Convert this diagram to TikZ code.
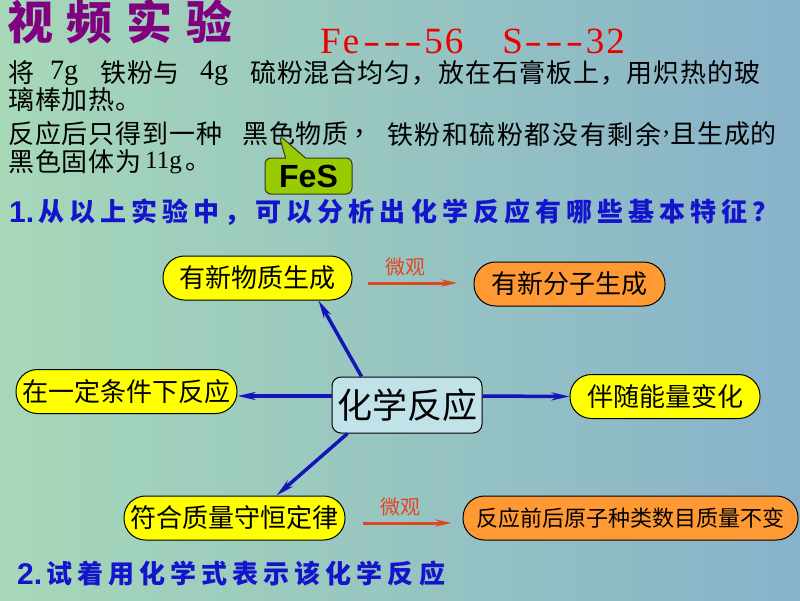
\documentclass[tikz,border=0pt]{standalone}
\usepackage{fontspec}
\usepackage{graphicx}
\setmainfont{Liberation Serif}
\setsansfont{Liberation Sans}
\newfontfamily\cjk{Noto Sans CJK SC}
\usetikzlibrary{arrows.meta,shapes.callouts}
\definecolor{bgL}{RGB}{166,216,184}
\definecolor{bgR}{RGB}{136,178,202}
\definecolor{titlepurple}{RGB}{128,0,128}
\definecolor{qblue}{RGB}{20,20,205}
\definecolor{yfill}{RGB}{255,255,0}
\definecolor{ofill}{RGB}{255,153,51}
\definecolor{cfill}{RGB}{192,226,232}
\definecolor{fesgreen}{RGB}{153,204,0}
\definecolor{arrblue}{RGB}{20,20,185}
\definecolor{microred}{RGB}{225,70,35}
\definecolor{fered}{RGB}{235,0,0}
\newcommand{\mcell}[1]{\makebox[20.6pt]{#1}}
\newcommand{\mdash}{\makebox[20.6pt]{\scalebox{1.4}[1]{-}}}
\tikzset{
  x=1pt,y=-1pt,
  txt/.style={inner sep=0pt,anchor=west},
  bodyfont/.style={font=\cjk\fontsize{26}{26}\selectfont\addfontfeature{LetterSpace=3.5}},
  qfont/.style={font=\cjk\bfseries\fontsize{26}{26}\selectfont\addfontfeature{LetterSpace=19.5},text=qblue},
  stadium/.style={draw=black,line width=1pt,rounded corners=21.5pt,inner sep=0pt,
     minimum height=44pt,font=\cjk\fontsize{26}{26}\selectfont},
  ynode/.style={stadium,fill=yfill},
  onode/.style={stadium,fill=ofill},
  barrow/.style={draw=arrblue,line width=3.5pt,-{Stealth[length=18pt,width=8pt]}},
  rarrow/.style={draw=microred,line width=3pt,-{Stealth[length=16pt,width=7pt]}},
  micro/.style={inner sep=0pt,text=microred,font=\cjk\fontsize{20}{20}\selectfont},
}
\begin{document}
\begin{tikzpicture}
\useasboundingbox (0,0) rectangle (800,600);
\fill[left color=bgL,right color=bgR] (0,0) rectangle (800,600);

% title
\node[txt,text=titlepurple] (title) at (7,22) {\cjk\bfseries\fontsize{46}{46}\selectfont\addfontfeature{LetterSpace=30}视频实验};

% atomic masses
\node[inner sep=0pt,anchor=base west,text depth=0pt,text=fered,font=\fontsize{37}{37}\selectfont] (mass) at (320,53)
 {\mcell{F}\mcell{e}\mdash\mdash\mdash\mcell{5}\mcell{6}\hspace{38pt}\mcell{S}\mdash\mdash\mdash\mcell{3}\mcell{2}};

% body text
\node[txt,bodyfont] (l1a) at (8,73) {将};
\node[txt,font=\fontsize{28}{28}\selectfont] (l1b) at (50,73) {7g};
\node[txt,bodyfont] (l1c) at (100,73) {铁粉与};
\node[txt,font=\fontsize{28}{28}\selectfont] (l1d) at (200,73) {4g};
\node[txt,bodyfont] (l1e) at (250,73) {硫粉混合均匀，放在石膏板上，用炽热的玻};
\node[txt,bodyfont] (l2) at (8,100) {璃棒加热。};
\node[txt,bodyfont] (l3a) at (8,134) {反应后只得到一种};
\node[txt,bodyfont] (l3b) at (242,134) {黑色物质};
\node[txt,bodyfont] (l3c) at (353,134) {，};
\node[txt,bodyfont] (l3d) at (387,134) {\addfontfeature{LetterSpace=6}铁粉和硫粉都没有剩余};
\node[txt,font=\fontsize{26}{26}\selectfont] (l3e) at (663,134) {,};
\node[txt,bodyfont] (l3f) at (670,134) {且生成的};
\node[txt,bodyfont] (l4a) at (8,162) {黑色固体为};
\node[txt,font=\fontsize{25}{25}\selectfont] (l4b) at (145,163) {11g};
\node[txt,bodyfont,text height=14pt] (l4c) at (185,163) {。};

% FeS callout
\node[rectangle callout,draw=black!80!olive,line width=1pt,fill=fesgreen,rounded corners=6pt,
  minimum width=87pt,minimum height=36pt,inner sep=0pt,
  callout absolute pointer={(279,135)},callout pointer width=20pt,
  font=\sffamily\bfseries\fontsize{32}{32}\selectfont] (fes) at (308.5,176) {FeS};

% questions
\node[txt,text=qblue,font=\sffamily\bfseries\fontsize{30}{30}\selectfont] (q1n) at (9,212) {1.};
\node[txt,qfont] (q1) at (38,212) {从以上实验中，可以分析出化学反应有哪些基本特征？};
\node[txt,text=qblue,font=\sffamily\bfseries\fontsize{30}{30}\selectfont] (q2n) at (17,574) {2.};
\node[txt,qfont] (q2) at (46,574) {试着用化学式表示该化学反应};

% mind map
\node[draw=black,line width=1pt,fill=cfill,rounded corners=9pt,minimum width=150pt,minimum height=56pt,
  inner sep=0pt,font=\cjk\fontsize{35}{35}\selectfont] (c) at (407,405) {化学反应};
\node[ynode,minimum width=189pt] (n1) at (257.5,278) {有新物质生成};
\node[onode,minimum width=191pt] (n2) at (569.5,284) {有新分子生成};
\node[ynode,minimum width=221pt] (n3) at (126.5,391.5) {在一定条件下反应};
\node[ynode,minimum width=190pt] (n4) at (665,396.5) {伴随能量变化};
\node[ynode,minimum width=221pt] (n5) at (234.5,518) {符合质量守恒定律};
\node[onode,minimum width=335pt,font=\cjk\fontsize{22}{22}\selectfont] (n6) at (630.5,518) {反应前后原子种类数目质量不变};

\draw[barrow] ([xshift=30pt]c.north west) -- ([xshift=61pt]n1.south);
\draw[barrow] ([yshift=9pt]c.west) -- ([yshift=-4.5pt]n3.east);
\draw[barrow] ([yshift=9pt]c.east) -- (n4.west);
\draw[barrow] ([xshift=16pt]c.south west) -- ([xshift=42pt]n5.north);

\draw[rarrow] ([xshift=15pt,yshift=-5pt]n1.east) -- ([xshift=-16pt,yshift=1pt]n2.west);
\node[micro] (m1) at (405,267) {微观};
\draw[rarrow] ([xshift=17pt,yshift=-5pt]n5.east) -- ([xshift=-11pt,yshift=-5pt]n6.west);
\node[micro] (m2) at (400,507) {微观};
\end{tikzpicture}
\end{document}
